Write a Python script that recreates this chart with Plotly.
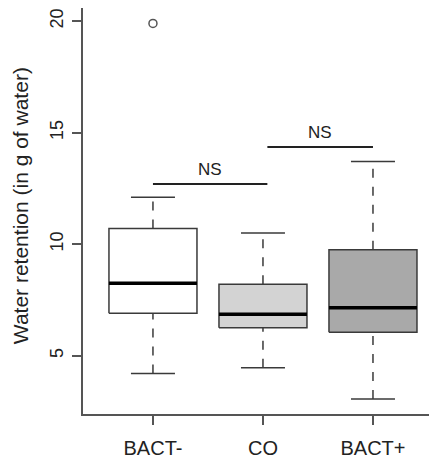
import plotly.graph_objects as go

# group summary statistics
groups = ["BACT-", "CO", "BACT+"]
lower_whisker = [4.2, 4.45, 3.05]
q1 = [6.9, 6.25, 6.05]
median = [8.25, 6.85, 7.15]
q3 = [10.7, 8.2, 9.75]
upper_whisker = [12.1, 10.5, 13.7]

outlier_group = ["BACT-"]
outlier_value = [19.9]

# significance brackets (x in group-position units)
bracket_x0 = [1.0, 2.04]
bracket_x1 = [2.04, 3.0]
bracket_y = [12.7, 14.35]
bracket_text = ["NS", "NS"]

fill_colors = ["#ffffff", "#d3d3d3", "#a9a9a9"]
edge = "#3a3a3a"
half_box = 0.4
half_cap = 0.2

fig = go.Figure()
positions = list(range(1, len(groups) + 1))

for i, pos in enumerate(positions):
    # whiskers (dashed)
    for lo, hi in [(q3[i], upper_whisker[i]), (lower_whisker[i], q1[i])]:
        fig.add_trace(go.Scatter(x=[pos, pos], y=[lo, hi], mode="lines",
                                 line=dict(color=edge, width=1.5, dash="dash"),
                                 hoverinfo="skip", showlegend=False))
    # caps
    for v in (lower_whisker[i], upper_whisker[i]):
        fig.add_trace(go.Scatter(x=[pos - half_cap, pos + half_cap], y=[v, v], mode="lines",
                                 line=dict(color=edge, width=1.5),
                                 hoverinfo="skip", showlegend=False))
    # box body
    fig.add_trace(go.Scatter(
        x=[pos - half_box, pos + half_box, pos + half_box, pos - half_box, pos - half_box],
        y=[q1[i], q1[i], q3[i], q3[i], q1[i]],
        mode="lines", fill="toself", fillcolor=fill_colors[i],
        line=dict(color=edge, width=1.5), hoverinfo="skip", showlegend=False))
    # median
    fig.add_trace(go.Scatter(x=[pos - half_box, pos + half_box], y=[median[i], median[i]],
                             mode="lines", line=dict(color="#000000", width=3.5),
                             hoverinfo="skip", showlegend=False))

# outliers
fig.add_trace(go.Scatter(
    x=[positions[groups.index(g)] for g in outlier_group], y=outlier_value,
    mode="markers", marker=dict(symbol="circle-open", size=8, color="#555555",
                                line=dict(width=1.5)),
    hoverinfo="skip", showlegend=False))

# NS brackets
for x0, x1, y, t in zip(bracket_x0, bracket_x1, bracket_y, bracket_text):
    fig.add_trace(go.Scatter(x=[x0, x1], y=[y, y], mode="lines",
                             line=dict(color="#222222", width=2),
                             hoverinfo="skip", showlegend=False))
    fig.add_annotation(x=(x0 + x1) / 2, y=y, text=t, showarrow=False,
                       yanchor="bottom", yshift=3,
                       font=dict(size=17, color="#222222"))

# y axis title placed as a rotated annotation so it sits further left
fig.add_annotation(xref="paper", yref="paper", x=0, y=0.512, xshift=-63,
                   xanchor="center", yanchor="middle", textangle=-90,
                   text="Water retention (in g of water)", showarrow=False,
                   font=dict(size=21, color="#222222"))

axis_style = dict(showline=True, linecolor="#555555", linewidth=1.5,
                  ticks="outside", ticklen=9, tickwidth=1.5, tickcolor="#555555",
                  showgrid=False, zeroline=False, mirror=False, automargin=False,
                  ticklabeloverflow="allow")

# page body has an 8px margin, so the figure is sized to fit the window
fig.update_layout(
    width=429, height=450,
    margin=dict(l=75, r=0, t=0, b=44),
    plot_bgcolor="white", paper_bgcolor="white",
    font=dict(family="Liberation Sans, Arial, sans-serif", size=20, color="#222222"),
    xaxis=dict(range=[0.364, 3.582], tickvals=positions, ticktext=groups,
               ticklabelstandoff=6, **axis_style),
    yaxis=dict(range=[2.38, 20.59], tickvals=[5, 10, 15, 20], tickangle=-90,
               tickfont=dict(size=18), ticklabelstandoff=2, **axis_style),
)

fig.write_html("out.html")
